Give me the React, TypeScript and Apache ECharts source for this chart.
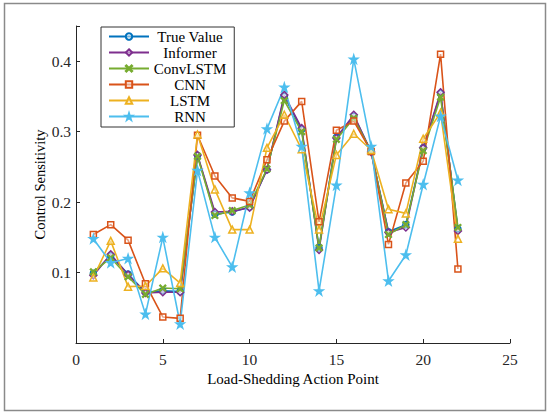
import React, { useEffect, useRef } from "react";
import * as echarts from "echarts";

const xs = [1, 2, 3, 4, 5, 6, 7, 8, 9, 10, 11, 12, 13, 14, 15, 16, 17, 18, 19, 20, 21, 22];

const trueValue = [0.099, 0.124, 0.098, 0.072, 0.074, 0.073, 0.266, 0.183, 0.186, 0.193, 0.246, 0.350, 0.303, 0.135, 0.292, 0.322, 0.272, 0.158, 0.168, 0.277, 0.354, 0.162];
const informer = [0.096, 0.126, 0.097, 0.071, 0.072, 0.072, 0.267, 0.186, 0.187, 0.192, 0.246, 0.352, 0.305, 0.132, 0.291, 0.324, 0.271, 0.157, 0.164, 0.277, 0.356, 0.159];
const convLSTM = [0.101, 0.121, 0.094, 0.069, 0.078, 0.077, 0.265, 0.181, 0.188, 0.196, 0.247, 0.344, 0.300, 0.135, 0.289, 0.319, 0.272, 0.154, 0.168, 0.273, 0.349, 0.164];
const cnn = [0.154, 0.168, 0.146, 0.084, 0.037, 0.035, 0.295, 0.237, 0.206, 0.201, 0.260, 0.315, 0.343, 0.172, 0.302, 0.315, 0.272, 0.140, 0.227, 0.258, 0.410, 0.105];
const lstm = [0.093, 0.145, 0.080, 0.081, 0.106, 0.085, 0.296, 0.218, 0.161, 0.161, 0.277, 0.324, 0.275, 0.161, 0.267, 0.297, 0.274, 0.190, 0.184, 0.290, 0.327, 0.148];
const rnn = [0.148, 0.114, 0.120, 0.041, 0.150, 0.027, 0.245, 0.150, 0.108, 0.213, 0.304, 0.363, 0.279, 0.074, 0.224, 0.403, 0.279, 0.088, 0.125, 0.225, 0.322, 0.231];

const seriesNames = ["True Value", "Informer", "ConvLSTM", "CNN", "LSTM", "RNN"];
const seriesValues = [trueValue, informer, convLSTM, cnn, lstm, rnn];
const seriesColors = ["#0072BD", "#7E2F8E", "#77AC30", "#D95319", "#EDB120", "#4DBEEE"];

const STAR = "path://M50,0L61.23,34.55L97.55,34.55L68.17,55.9L79.39,90.45L50,69.1L20.61,90.45L31.83,55.9L2.45,34.55L38.77,34.55Z";
const CROSS = "path://M0,1L1,0L5,4L9,0L10,1L6,5L10,9L9,10L5,6L1,10L0,9L4,5Z";
const seriesSymbols = ["circle", "diamond", CROSS, "rect", "triangle", STAR];
const hollow = [true, true, false, true, true, false];
const symbolSizes = [6, 7, 6, 6, 7, 8];

const FONT = "Liberation Serif";

export default function App() {
  const ref = useRef<HTMLDivElement>(null);
  useEffect(() => {
    if (!ref.current) return;
    const chart = echarts.init(ref.current, null, { renderer: "svg" });
    const series = seriesNames.map((name, i) => ({
      name,
      type: "line",
      data: xs.map((x, j) => [x, seriesValues[i][j]]),
      symbol: seriesSymbols[i],
      symbolSize: symbolSizes[i],
      showAllSymbol: true,
      lineStyle: { color: seriesColors[i], width: 1.6 },
      itemStyle: {
        color: hollow[i] ? "rgba(255,255,255,0.45)" : seriesColors[i],
        borderColor: seriesColors[i],
        borderWidth: 1.5,
      },
      emphasis: { disabled: true },
    }));
    chart.setOption({
      animation: false,
      backgroundColor: "#fff",
      grid: { left: 76, right: 40, top: 26, bottom: 73, containLabel: false },
      xAxis: {
        type: "value",
        min: 0,
        max: 25,
        interval: 5,
        name: "Load-Shedding Action Point",
        nameLocation: "middle",
        nameGap: 27,
        nameTextStyle: { fontFamily: FONT, fontSize: 15, color: "#000" },
        axisLine: { show: true, lineStyle: { color: "#262626", width: 1 } },
        axisTick: { show: true, inside: true, length: 4, lineStyle: { color: "#262626" } },
        axisLabel: { fontFamily: FONT, fontSize: 15.5, color: "#262626", margin: 8 },
        splitLine: { show: false },
      },
      yAxis: {
        type: "value",
        min: 0,
        max: 0.45,
        interval: 0.1,
        name: "Control Sensitivity",
        nameLocation: "middle",
        nameGap: 36,
        nameMoveOverlap: false,
        nameTextStyle: { fontFamily: FONT, fontSize: 14.5, color: "#000", verticalAlign: "middle" },
        axisLine: { show: true, lineStyle: { color: "#262626", width: 1 } },
        axisTick: { show: true, inside: true, length: 4, lineStyle: { color: "#262626" } },
        axisLabel: {
          fontFamily: FONT,
          fontSize: 15.5,
          color: "#262626",
          margin: 5,
          showMinLabel: false,
          formatter: (v: number) => (Math.abs(v * 10 - Math.round(v * 10)) < 1e-6 && v > 0 ? v.toFixed(1) : ""),
        },
        splitLine: { show: false },
      },
      legend: {
        orient: "vertical",
        left: 101,
        top: 27,
        itemWidth: 40,
        itemHeight: 8,
        itemGap: 1,
        padding: [2, 8, 3, 7],
        borderColor: "#333",
        borderWidth: 1,
        backgroundColor: "#fff",
        data: seriesNames,
        formatter: (name: string) => `{a|${name}}`,
        textStyle: {
          fontFamily: FONT,
          fontSize: 15,
          color: "#000",
          rich: { a: { width: 72, align: "center", fontFamily: FONT, fontSize: 15, lineHeight: 15, color: "#000" } },
        },
      },
      graphic: [
        {
          type: "rect",
          shape: { x: 4.5, y: 3.5, width: 541, height: 407 },
          style: { fill: "none", stroke: "#8a8a8a", lineWidth: 1.5 },
          silent: true,
          z: -1,
        },
      ],
      series,
    });
    return () => chart.dispose();
  }, []);
  return (
    <div
      ref={ref}
      style={{ position: "absolute", left: 0, top: 0, width: 550, height: 416 }}
    />
  );
}
